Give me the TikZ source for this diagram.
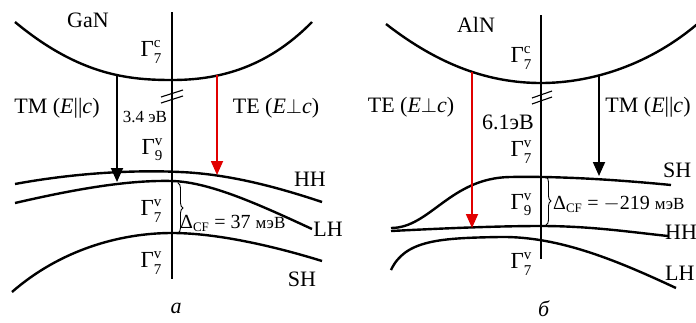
\documentclass[tikz,border=0pt]{standalone}
\usepackage{fontspec}
\setmainfont{Liberation Serif}
\usetikzlibrary{arrows.meta,decorations.pathreplacing}
\definecolor{arrred}{RGB}{225,0,0}
\newcommand{\GL}[2]{Γ$^{\hbox{\fontsize{15}{15}\selectfont #1}}_{\hbox{\fontsize{15}{15}\selectfont #2}}$}
\newcommand{\DCF}{Δ$_{\hbox{\fontsize{13}{13}\selectfont CF}}$}
\tikzset{
  band/.style={line width=2.4pt},
  axis/.style={line width=1.1pt},
  trans/.style={line width=1.8pt,-{Triangle[length=14pt,width=12pt]}},
  lbl/.style={inner sep=0pt,font=\fontsize{22}{26}\selectfont},
  glbl/.style={inner sep=0pt,anchor=east,font=\fontsize{23}{26}\selectfont},
  small/.style={inner sep=0pt,font=\fontsize{17}{20}\selectfont},
  dlbl/.style={inner sep=0pt,anchor=west,font=\fontsize{20}{22}\selectfont},
  brk/.style={line width=1.1pt},
  brc/.style={line width=0.9pt,decorate,decoration={brace,amplitude=5pt}}
}
\begin{document}
\begin{tikzpicture}[x=1pt,y=-1pt]
\useasboundingbox (0,0) rectangle (696,322);
\clip (0,0) rectangle (696,322);
% ---------------- panel a (GaN) ----------------
\coordinate (La) at (172,12);
\coordinate (Lb) at (172,279);
\draw[axis] (La) -- (Lb);
\draw[band] (15,22) .. controls (80,76) and (130,80) .. (172,80)
  .. controls (215,80) and (265,70) .. (312,22);
\draw[band] (15,184) .. controls (80,172) and (140,170) .. (180,172)
  .. controls (230,174) and (280,188) .. (322,202);
\draw[band] (15,203) .. controls (80,188) and (130,180) .. (172,181)
  .. controls (210,182) and (260,205) .. (312,229);
\draw[band] (12,292) .. controls (60,250) and (120,233) .. (172,233)
  .. controls (220,233) and (280,248) .. (322,261);
\coordinate (b1a) at (161,97); \coordinate (b1b) at (183,90);
\coordinate (b2a) at (161,103); \coordinate (b2b) at (183,96);
\draw[brk] (b1a) -- (b1b);
\draw[brk] (b2a) -- (b2b);
\coordinate (tmA) at (117,76); \coordinate (tmB) at (117,182);
\draw[trans] (tmA) -- (tmB);
\coordinate (teA) at (217,75); \coordinate (teB) at (217,175);
\draw[trans,arrred] (teA) -- (teB);
\coordinate (brA) at (178,183); \coordinate (brB) at (178,233);
\draw[brc] (brA) -- (brB);
\node[lbl] (gan) at (88,20) {GaN};
\node[glbl] (g7c) at (162,52) {\GL{c}{7}};
\node[lbl] (tm) at (57,108) {TM (\textit{E}||\textit{c})};
\node[small] (e34) at (145,117) {3.4 эВ};
\node[lbl] (te) at (276,108) {TE (\textit{E}$\perp$\textit{c})};
\node[glbl] (g9v) at (163,150) {\GL{v}{9}};
\node[lbl] (hh) at (310,179) {HH};
\node[glbl] (g7v) at (162,211) {\GL{v}{7}};
\node[dlbl] (dcf) at (180,223) {\DCF\ = 37 {\fontsize{17}{17}\selectfont мэВ}};
\node[lbl] (lh) at (328,229) {LH};
\node[glbl] (g7v2) at (162,263) {\GL{v}{7}};
\node[lbl] (sh) at (302,279) {SH};
\node[lbl] (capa) at (176,308) {\textit{a}};
% ---------------- panel b (AlN) ----------------
\coordinate (Ra) at (541,15);
\coordinate (Rb) at (541,259);
\draw[axis] (Ra) -- (Rb);
\draw[band] (386,24) .. controls (440,66) and (490,83) .. (541,83)
  .. controls (590,83) and (650,66) .. (702,20);
\draw[band] (391,228) .. controls (430,228) and (450,178) .. (510,177)
  .. controls (560,176) and (620,180) .. (671,185);
\draw[band] (391,231) .. controls (450,228) and (500,226) .. (541,226)
  .. controls (590,226) and (630,232) .. (668,236);
\draw[band] (391,270) .. controls (405,240) and (440,238) .. (500,237)
  .. controls (560,236) and (620,262) .. (676,288);
\coordinate (c1a) at (532,98); \coordinate (c1b) at (552,91);
\coordinate (c2a) at (532,104); \coordinate (c2b) at (552,97);
\draw[brk] (c1a) -- (c1b);
\draw[brk] (c2a) -- (c2b);
\coordinate (teC) at (472,72); \coordinate (teD) at (472,228);
\draw[trans,arrred] (teC) -- (teD);
\coordinate (tmC) at (599,76); \coordinate (tmD) at (599,176);
\draw[trans] (tmC) -- (tmD);
\coordinate (brC) at (546,177); \coordinate (brD) at (546,225);
\draw[brc] (brC) -- (brD);
\node[lbl] (aln) at (476,25) {AlN};
\node[glbl] (h7c) at (532,58) {\GL{c}{7}};
\node[lbl] (te2) at (411,107) {TE (\textit{E}$\perp$\textit{c})};
\node[lbl] (tm2) at (648,107) {TM (\textit{E}||\textit{c})};
\node[lbl] (e61) at (508,122) {6.1эВ};
\node[glbl] (h7v) at (532,152) {\GL{v}{7}};
\node[lbl,anchor=west] (sh2) at (663,170) {SH};
\node[glbl] (h9v) at (532,205) {\GL{v}{9}};
\node[dlbl] (dcf2) at (553,204) {\DCF\ = $-$219 {\fontsize{17}{17}\selectfont мэВ}};
\node[lbl,anchor=west] (hh2) at (665,232) {HH};
\node[lbl,anchor=west] (lh2) at (665,273) {LH};
\node[glbl] (h7v2) at (532,264) {\GL{v}{7}};
\node[lbl] (capb) at (544,309) {\textit{б}};
\end{tikzpicture}
\end{document}
